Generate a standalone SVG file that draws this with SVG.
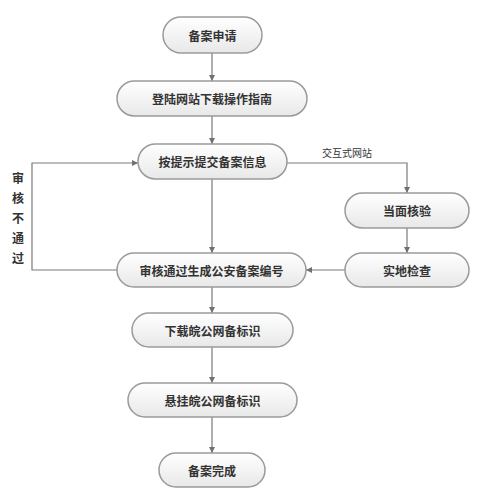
<svg xmlns="http://www.w3.org/2000/svg" width="478" height="500" viewBox="0 0 478 500">
<defs>
<linearGradient id="g" x1="0" y1="0" x2="0" y2="1">
<stop offset="0" stop-color="#ffffff"/>
<stop offset="1" stop-color="#e8e8e8"/>
</linearGradient>
<marker id="a" viewBox="0 0 10 10" refX="10" refY="5" markerWidth="6" markerHeight="6" orient="auto" markerUnits="userSpaceOnUse">
<path d="M0,0 L10,5 L0,10 z" fill="#707070"/>
</marker>
</defs>
<style>
.n rect{fill:url(#g);stroke:#9a9a9a;stroke-width:1.5}
.n text,.t{font-family:"Noto Sans CJK SC","Liberation Sans",sans-serif;font-size:12px;fill:#333;text-anchor:middle;dominant-baseline:central;font-weight:bold}
.t{font-weight:normal;font-size:10px}
.c path{fill:none;stroke:#7a7a7a;stroke-width:1.2;marker-end:url(#a)}
</style>
<rect width="478" height="500" fill="#fff"/>
<g class="c" id="connectors">
<path d="M212,53 V81"/>
<path d="M212,116 V144"/>
<path d="M212,179 V253"/>
<path d="M287,163 H407 V193"/>
<path d="M407,228 V253"/>
<path d="M345,270 H306"/>
<path d="M117,270 H32 V163 H138"/>
<path d="M212,287 V313"/>
<path d="M212,347 V383"/>
<path d="M212,417 V453"/>
</g>
<text class="t" x="347" y="152">交互式网站</text>
<g id="lbl-fail" font-family="'Noto Sans CJK SC',sans-serif" font-size="12" fill="#333" text-anchor="middle" font-weight="bold">
<text x="18" y="183">审</text>
<text x="18" y="203">核</text>
<text x="18" y="223">不</text>
<text x="18" y="243">通</text>
<text x="18" y="263">过</text>
</g>
<g class="n" id="n1"><rect x="163" y="17" width="99" height="36" rx="18"/><text x="212.5" y="35">备案申请</text></g>
<g class="n" id="n2"><rect x="117" y="81" width="190" height="35" rx="17.5"/><text x="212" y="98.5">登陆网站下载操作指南</text></g>
<g class="n" id="n3"><rect x="138" y="144" width="149" height="35" rx="17.5"/><text x="212.5" y="161.5">按提示提交备案信息</text></g>
<g class="n" id="n4"><rect x="345" y="193" width="124" height="35" rx="17.5"/><text x="407" y="210.5">当面核验</text></g>
<g class="n" id="n5"><rect x="345" y="253" width="124" height="34" rx="17"/><text x="407" y="270">实地检查</text></g>
<g class="n" id="n6"><rect x="117" y="253" width="189" height="34" rx="17"/><text x="211.5" y="270">审核通过生成公安备案编号</text></g>
<g class="n" id="n7"><rect x="132" y="313" width="161" height="34" rx="17"/><text x="212.5" y="330">下载皖公网备标识</text></g>
<g class="n" id="n8"><rect x="128" y="383" width="169" height="34" rx="17"/><text x="212.5" y="400">悬挂皖公网备标识</text></g>
<g class="n" id="n9"><rect x="159" y="453" width="106" height="34" rx="17"/><text x="212" y="470">备案完成</text></g>
</svg>
